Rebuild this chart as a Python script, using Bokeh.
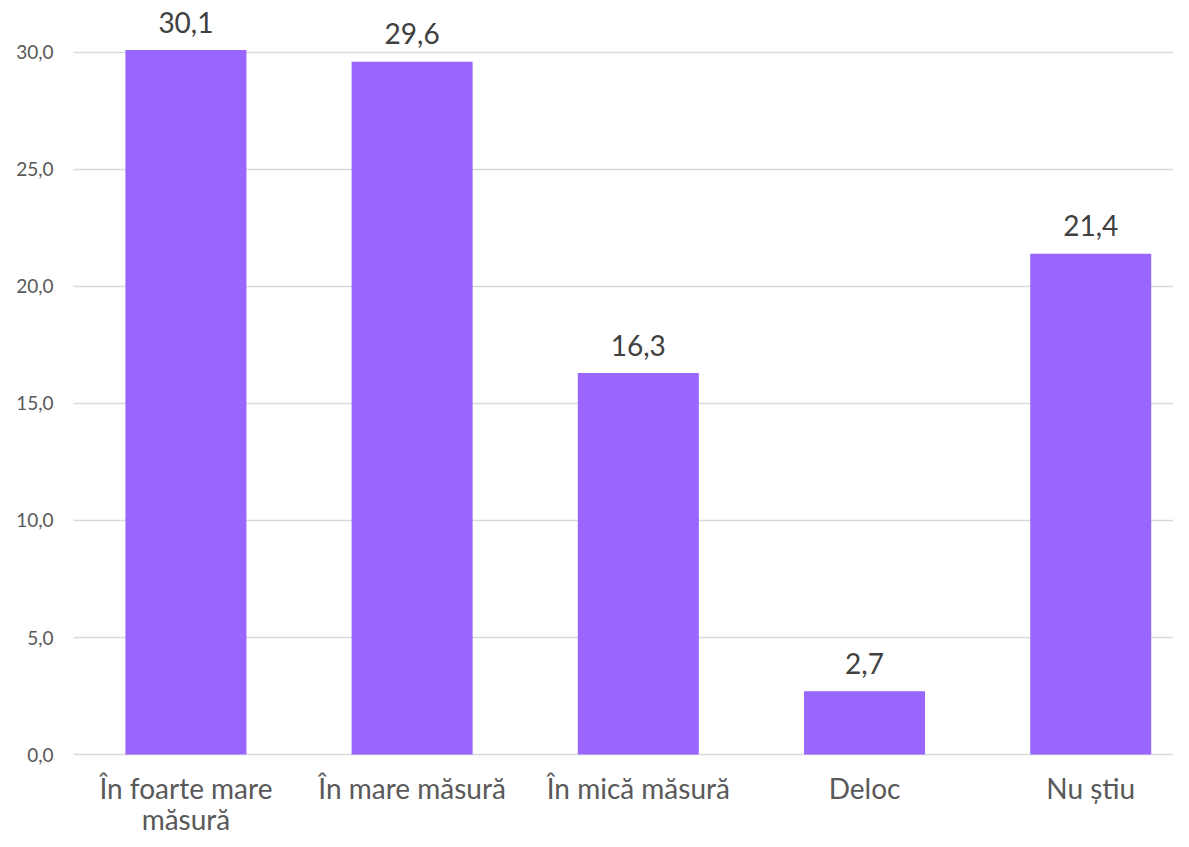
from bokeh.plotting import figure
from bokeh.models import Range1d, FixedTicker, CustomJSTickFormatter, ColumnDataSource
from bokeh.core.properties import value
from bokeh.embed import file_html
from bokeh.resources import INLINE

categories = ["În foarte mare\nmăsură", "În mare măsură", "În mică măsură", "Deloc", "Nu știu"]
values = [30.1, 29.6, 16.3, 2.7, 21.4]
value_labels = ["30,1", "29,6", "16,3", "2,7", "21,4"]
y_ticks = [0, 5, 10, 15, 20, 25, 30]

FONT = "Lato"
xs = list(range(len(categories)))
src = ColumnDataSource(dict(x=xs, top=values, lbl=value_labels))

p = figure(width=1173, height=839, output_backend="svg", toolbar_location=None,
           x_range=Range1d(-0.497, 4.366), y_range=Range1d(-0.085, 32.22),
           min_border_left=73, min_border_right=0, min_border_top=0, min_border_bottom=83)
p.outline_line_color = None
p.background_fill_color = "white"
p.border_fill_color = "white"

p.vbar(x="x", top="top", bottom=0, width=0.535, source=src,
       fill_color="#9966FF", line_color=None)
p.text(x="x", y="top", text="lbl", source=src, text_align="center",
       text_baseline="alphabetic", y_offset=-28, text_font=value(FONT),
       text_font_size="28px", text_color="#404040")

p.xgrid.grid_line_color = None
p.ygrid.grid_line_color = "#d9d9d9"
p.ygrid.grid_line_width = 1.5

p.yaxis.ticker = FixedTicker(ticks=y_ticks)
p.yaxis.formatter = CustomJSTickFormatter(code="return tick.toFixed(1).replace('.', ',');")
p.yaxis.axis_line_color = None
p.yaxis.major_tick_line_color = None
p.yaxis.minor_tick_line_color = None
p.yaxis.major_label_text_font = FONT
p.yaxis.major_label_text_font_size = "19px"
p.yaxis.major_label_text_color = "#595959"
p.yaxis.major_label_standoff = 14

p.xaxis.ticker = FixedTicker(ticks=xs)
p.xaxis.major_label_overrides = {i: c for i, c in enumerate(categories)}
p.xaxis.axis_line_color = None
p.xaxis.major_tick_line_color = None
p.xaxis.minor_tick_line_color = None
p.xaxis.major_label_text_font = FONT
p.xaxis.major_label_text_font_size = "28px"
p.xaxis.major_label_text_line_height = 0.92
p.xaxis.major_label_text_color = "#595959"
p.xaxis.major_label_standoff = 8

open("out.html", "w").write(file_html(p, INLINE))
